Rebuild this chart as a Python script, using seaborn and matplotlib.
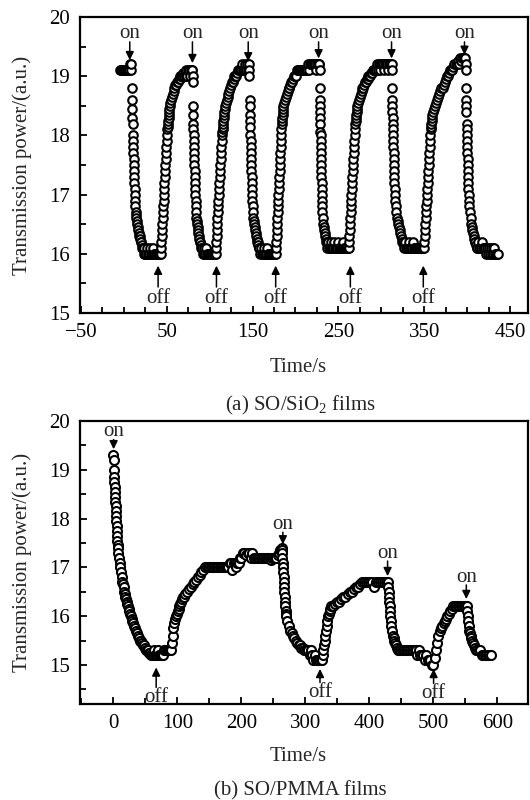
import numpy as np
import pandas as pd
import matplotlib
matplotlib.use("Agg")
import matplotlib.pyplot as plt
from matplotlib.ticker import MultipleLocator
import seaborn as sns

# ======================= DATA =======================
# Panel (a) SO/SiO2 films: for every on/off cycle, the phase edge times (s)
# and the readings (a.u.) recorded inside each phase (evenly spaced in time).
a1_edges = [-4, 9, 14, 22, 43, 54, 72]
a1_power = [
    [19.1, 19.1, 19.1, 19.1, 19.1, 19.1, 19.1, 19.1, 19.1, 19.1, 19.1, 19.1, 19.2, 19.1],
    [19.2, 18.8, 18.6, 18.45, 18.3, 18.2, 18.0, 17.9, 17.8, 17.7, 17.6, 17.5, 17.4, 17.3, 17.2, 17.1, 17.0, 16.9, 16.8, 16.7],
    [16.65, 16.6, 16.55, 16.5, 16.45, 16.4, 16.35, 16.3, 16.3, 16.25, 16.2, 16.2, 16.15, 16.1],
    [16.1, 16.0, 16.1, 16.0, 16.0, 16.1, 16.0, 16.0, 16.1, 16.0, 16.0, 16.0, 16.1, 16.0, 16.0, 16.0, 16.0, 16.0, 16.0, 16.0],
    [16.0, 16.1, 16.2, 16.3, 16.4, 16.5, 16.6, 16.7, 16.8, 16.9, 17.0, 17.1, 17.2, 17.3, 17.4, 17.5, 17.6, 17.7, 17.8, 17.9,
     18.0, 18.1, 18.15, 18.2, 18.25, 18.3, 18.35, 18.4, 18.45, 18.5],
    [18.55, 18.6, 18.65, 18.7, 18.75, 18.8, 18.85, 18.85, 18.9, 18.9, 18.95, 18.95, 19.0, 19.0, 19.0, 19.05, 19.0, 19.05],
]
a2_edges = [72, 80, 84, 90, 107, 118, 136]
a2_power = [
    [19.0, 19.1, 19.0, 19.1, 19.1, 19.0, 19.1, 19.1],
    [19.1, 19.0, 18.9, 18.5, 18.35, 18.2, 18.1, 18.0, 17.9, 17.8, 17.7, 17.6, 17.5, 17.4, 17.3, 17.2, 17.1, 17.0, 16.9, 16.8],
    [16.7, 16.6, 16.55, 16.5, 16.45, 16.4, 16.35, 16.3, 16.25, 16.2, 16.2, 16.15],
    [16.1, 16.1, 16.0, 16.1, 16.0, 16.0, 16.1, 16.0, 16.0, 16.0, 16.0, 16.0, 16.0, 16.0, 16.0, 16.0, 16.0],
    [16.0, 16.1, 16.2, 16.3, 16.4, 16.5, 16.6, 16.7, 16.8, 16.9, 17.0, 17.1, 17.2, 17.3, 17.4, 17.5, 17.6, 17.7, 17.8, 17.9,
     18.0, 18.05, 18.1, 18.15, 18.2, 18.25, 18.3, 18.35, 18.4, 18.45],
    [18.5, 18.55, 18.6, 18.65, 18.7, 18.75, 18.8, 18.85, 18.9, 18.9, 18.95, 19.0, 19.0, 19.0, 19.05, 19.1, 19.1, 19.1],
]
a3_edges = [136, 146, 150, 158, 177, 186, 201]
a3_power = [
    [19.1, 19.1, 19.2, 19.1, 19.1, 19.2, 19.1, 19.1, 19.2, 19.1],
    [19.2, 19.1, 19.0, 18.6, 18.5, 18.35, 18.25, 18.15, 18.0, 17.9, 17.8, 17.7, 17.6, 17.5, 17.4, 17.3, 17.2, 17.1, 17.0, 16.9],
    [16.8, 16.7, 16.6, 16.55, 16.5, 16.45, 16.4, 16.35, 16.3, 16.25, 16.2, 16.2, 16.15, 16.1],
    [16.1, 16.0, 16.1, 16.0, 16.0, 16.1, 16.0, 16.0, 16.0, 16.1, 16.0, 16.0, 16.0, 16.0, 16.0, 16.0, 16.0, 16.0, 16.0],
    [16.0, 16.1, 16.2, 16.3, 16.4, 16.5, 16.6, 16.7, 16.8, 16.9, 17.0, 17.1, 17.2, 17.3, 17.4, 17.5, 17.6, 17.7, 17.8, 17.9,
     18.0, 18.1, 18.2, 18.25, 18.3, 18.35, 18.4, 18.45],
    [18.5, 18.55, 18.6, 18.65, 18.7, 18.75, 18.8, 18.8, 18.85, 18.9, 18.9, 18.95, 19.0, 19.0, 19.0],
]
a4_edges = [201, 228, 231, 237, 262, 272, 294]
a4_power = [
    [19.0, 19.1, 19.1, 19.1, 19.1, 19.1, 19.1, 19.1, 19.1, 19.1, 19.1, 19.1, 19.1, 19.1, 19.2, 19.1, 19.2, 19.2, 19.2, 19.2,
     19.2, 19.2, 19.2, 19.1, 19.2, 19.2, 19.2],
    [19.2, 19.1, 18.8, 18.6, 18.5, 18.4, 18.3, 18.2, 18.05, 18.0, 17.9, 17.8, 17.7, 17.6, 17.5, 17.4, 17.3, 17.2, 17.1, 17.0, 16.9],
    [16.8, 16.7, 16.6, 16.5, 16.45, 16.4, 16.35, 16.3, 16.25, 16.2, 16.2],
    [16.1, 16.2, 16.1, 16.1, 16.2, 16.1, 16.1, 16.1, 16.2, 16.1, 16.1, 16.1, 16.1, 16.2, 16.1, 16.1, 16.1, 16.1, 16.1, 16.2,
     16.1, 16.1, 16.1, 16.1, 16.1],
    [16.1, 16.2, 16.3, 16.4, 16.5, 16.6, 16.7, 16.8, 16.9, 17.0, 17.1, 17.2, 17.3, 17.4, 17.5, 17.6, 17.7, 17.8, 17.9, 18.0,
     18.1, 18.2, 18.25, 18.3, 18.35, 18.4, 18.45],
    [18.5, 18.55, 18.6, 18.65, 18.7, 18.75, 18.8, 18.8, 18.85, 18.9, 18.9, 18.95, 18.95, 19.0, 19.0, 19.0, 19.05, 19.05, 19.1,
     19.1, 19.1, 19.1],
]
a5_edges = [294, 312, 316, 327, 350, 360, 398]
a5_power = [
    [19.1, 19.2, 19.1, 19.2, 19.2, 19.1, 19.2, 19.2, 19.2, 19.1, 19.2, 19.2, 19.2, 19.2, 19.1, 19.2, 19.2, 19.2],
    [19.2, 19.1, 18.8, 18.6, 18.5, 18.4, 18.3, 18.2, 18.1, 18.0, 17.9, 17.8, 17.7, 17.6, 17.5, 17.4, 17.3, 17.2, 17.1, 17.0],
    [16.9, 16.8, 16.7, 16.6, 16.55, 16.5, 16.45, 16.4, 16.35, 16.3, 16.25, 16.2, 16.2, 16.15],
    [16.1, 16.2, 16.1, 16.1, 16.1, 16.2, 16.1, 16.1, 16.1, 16.1, 16.2, 16.1, 16.1, 16.1, 16.1, 16.1, 16.1, 16.1, 16.1, 16.1,
     16.1, 16.1, 16.1],
    [16.1, 16.2, 16.3, 16.4, 16.5, 16.6, 16.7, 16.8, 16.9, 17.0, 17.1, 17.2, 17.3, 17.4, 17.5, 17.6, 17.7, 17.8, 17.9, 18.0,
     18.1, 18.15, 18.2, 18.25, 18.3, 18.35],
    [18.4, 18.45, 18.5, 18.55, 18.6, 18.65, 18.7, 18.75, 18.8, 18.8, 18.85, 18.9, 18.95, 19.0, 19.0, 19.05, 19.1, 19.1, 19.1,
     19.15, 19.2, 19.2, 19.2, 19.25, 19.2, 19.3, 19.25, 19.3, 19.3, 19.3],
]
a6_edges = [398, 402, 411, 437]
a6_power = [
    [19.3, 19.2, 19.1, 18.8, 18.6, 18.5, 18.4, 18.2, 18.1, 18.0, 17.9, 17.8, 17.7, 17.6, 17.5, 17.4, 17.3, 17.2, 17.1, 17.0],
    [16.9, 16.8, 16.7, 16.6, 16.5, 16.45, 16.4, 16.35, 16.3, 16.25, 16.2, 16.2, 16.15],
    [16.1, 16.1, 16.2, 16.1, 16.1, 16.1, 16.2, 16.1, 16.1, 16.1, 16.1, 16.0, 16.1, 16.0, 16.1, 16.0, 16.1, 16.0, 16.1, 16.0,
     16.1, 16.0, 16.0, 16.0, 16.0],
]
# switching events of panel (a)
a_on_time = [7, 80, 145, 227, 312, 397]
a_on_tip = [19.27, 19.22, 19.25, 19.3, 19.3, 19.36]
a_off_time = [40, 108, 177, 264, 349]
a_off_tip = [15.8, 15.8, 15.8, 15.8, 15.8]

# Panel (b) SO/PMMA films
b1_edges = [0, 7, 27, 60, 90, 110, 146, 180, 200, 220, 263]
b1_power = [
    [19.3, 19.2, 19.0, 18.85, 18.75, 18.65, 18.55, 18.45, 18.35, 18.25, 18.15, 18.05, 17.95, 17.85, 17.75, 17.65, 17.55, 17.45],
    [17.4, 17.3, 17.2, 17.1, 17.0, 16.9, 16.8, 16.7, 16.65, 16.6, 16.5, 16.45, 16.4, 16.35, 16.3, 16.25, 16.2, 16.15, 16.1, 16.05],
    [16.0, 15.95, 15.9, 15.85, 15.8, 15.75, 15.7, 15.65, 15.6, 15.55, 15.5, 15.5, 15.45, 15.4, 15.4, 15.35, 15.3, 15.3, 15.3,
     15.25, 15.25, 15.2],
    [15.2, 15.2, 15.3, 15.2, 15.2, 15.2, 15.2, 15.3, 15.2, 15.2, 15.2, 15.2, 15.2, 15.3, 15.3, 15.3, 15.3, 15.3, 15.3, 15.3],
    [15.3, 15.45, 15.6, 15.75, 15.85, 15.95, 16.0, 16.05, 16.1, 16.15, 16.2, 16.25, 16.3, 16.35, 16.4],
    [16.4, 16.45, 16.5, 16.55, 16.6, 16.65, 16.7, 16.75, 16.8, 16.85, 16.9, 16.95, 17.0],
    [17.0, 17.0, 17.0, 17.0, 17.0, 17.0, 17.0, 17.0, 17.0, 17.0, 17.0, 17.0, 17.0, 17.0, 17.0, 17.0, 17.0],
    [17.0, 17.1, 17.1, 16.95, 17.1, 17.1, 17.0, 17.1, 17.1, 17.2],
    [17.2, 17.3, 17.3, 17.25, 17.3, 17.3, 17.2, 17.3],
    [17.2, 17.2, 17.2, 17.2, 17.2, 17.2, 17.2, 17.2, 17.2, 17.2, 17.2, 17.2, 17.2, 17.15, 17.2, 17.2, 17.2, 17.2, 17.25,
     17.3, 17.35],
]
b2_edges = [263, 270, 305, 326, 340, 392, 429]
b2_power = [
    [17.4, 17.35, 17.3, 17.2, 17.1, 17.0, 16.9, 16.8, 16.7, 16.6, 16.5, 16.4, 16.3, 16.2, 16.1, 16.05],
    [16.0, 15.9, 15.8, 15.7, 15.65, 15.6, 15.55, 15.5, 15.45, 15.4, 15.4, 15.35, 15.35, 15.3, 15.3, 15.3],
    [15.3, 15.2, 15.3, 15.2, 15.1, 15.2, 15.1, 15.1, 15.1, 15.1, 15.1],
    [15.1, 15.2, 15.3, 15.4, 15.5, 15.6, 15.7, 15.8, 15.9, 16.0, 16.05, 16.1, 16.15],
    [16.2, 16.2, 16.25, 16.3, 16.3, 16.35, 16.4, 16.4, 16.45, 16.5, 16.5, 16.55, 16.6, 16.6, 16.65, 16.7],
    [16.7, 16.7, 16.7, 16.7, 16.7, 16.6, 16.7, 16.7, 16.7, 16.7, 16.7, 16.7],
]
b3_edges = [429, 434, 446, 500, 524, 534, 552]
b3_power = [
    [16.7, 16.6, 16.5, 16.4, 16.3, 16.2, 16.1, 16.0, 15.9],
    [15.8, 15.7, 15.6, 15.55, 15.5, 15.45, 15.4, 15.35, 15.3],
    [15.3, 15.3, 15.3, 15.3, 15.3, 15.3, 15.3, 15.3, 15.3, 15.3, 15.3, 15.3, 15.3, 15.2, 15.3, 15.2, 15.2, 15.2, 15.1, 15.2,
     15.1, 15.1, 15.1, 15.0],
    [15.0, 15.15, 15.3, 15.45, 15.6, 15.7, 15.75, 15.8, 15.85, 15.9, 15.95, 16.0],
    [16.05, 16.1, 16.15, 16.2],
    [16.2, 16.2, 16.2, 16.2, 16.2, 16.2, 16.2, 16.2],
]
b4_edges = [552, 557, 566, 592]
b4_power = [
    [16.2, 16.1, 16.0, 15.9, 15.8, 15.7],
    [15.65, 15.6, 15.55, 15.5, 15.45, 15.4, 15.35],
    [15.3, 15.3, 15.3, 15.3, 15.2, 15.2, 15.2, 15.2, 15.2, 15.2, 15.2],
]
# switching events of panel (b)
b_on_time = [0.5, 265, 428.6, 551.6]
b_on_text = [19.70, 17.79, 17.20, 16.70]
b_on_tail = [19.62, 17.72, 17.13, 16.64]
b_on_tip = [19.42, 17.47, 16.82, 16.35]
b_off_time = [67, 323, 500.5]
b_off_text = [14.24, 14.34, 14.32]
b_off_tail = [14.54, 14.64, 14.62]
b_off_tip = [14.95, 14.92, 14.92]


def expand(edges, phases):
    t, v = [], []
    for t0, t1, vals in zip(edges[:-1], edges[1:], phases):
        t.extend(np.linspace(t0, t1, len(vals), endpoint=False))
        v.extend(vals)
    return t, v


def build(cycles):
    ts, vs = [], []
    for edges, phases in cycles:
        t, v = expand(edges, phases)
        ts += t
        vs += v
    return pd.DataFrame({"time": ts, "power": vs})


df_a = build([(a1_edges, a1_power), (a2_edges, a2_power), (a3_edges, a3_power),
              (a4_edges, a4_power), (a5_edges, a5_power), (a6_edges, a6_power)])
df_b = build([(b1_edges, b1_power), (b2_edges, b2_power), (b3_edges, b3_power),
              (b4_edges, b4_power)])

# ======================= STYLE =======================
sns.set_style("ticks")
plt.rcParams["font.family"] = ["Liberation Serif", "DejaVu Serif"]
plt.rcParams["mathtext.fontset"] = "custom"
plt.rcParams["mathtext.rm"] = "Liberation Serif"
plt.rcParams["mathtext.it"] = "Liberation Serif:italic"
plt.rcParams["axes.unicode_minus"] = True

FS = 15
fig = plt.figure(figsize=(5.3, 8), dpi=100)
ax_a = fig.add_axes([80 / 530, 1 - 313 / 800, 448 / 530, 296 / 800])
ax_b = fig.add_axes([80 / 530, 1 - 704 / 800, 448 / 530, 283 / 800])

scatter_kw = dict(marker="o", facecolor="white", edgecolor="black",
                  linewidth=1.5, legend=False, zorder=3)
sns.scatterplot(data=df_a, x="time", y="power", ax=ax_a, s=38, **scatter_kw)
sns.scatterplot(data=df_b, x="time", y="power", ax=ax_b, s=42, **scatter_kw)

arrow_kw = dict(arrowstyle="-|>,head_width=0.22,head_length=0.45", lw=1.1,
                color="black", shrinkA=0, shrinkB=0, mutation_scale=11)


def mark(ax, t, text, text_y, tail, tip):
    ax.text(t, text_y, text, ha="center", va="baseline", fontsize=FS, zorder=5)
    ax.annotate("", xy=(t, tip), xytext=(t, tail), arrowprops=arrow_kw, zorder=6)


for t, tip in zip(a_on_time, a_on_tip):
    mark(ax_a, t, "on", 19.64, 19.58, tip)
for t, tip in zip(a_off_time, a_off_tip):
    mark(ax_a, t, "off", 15.17, 15.44, tip)
for t, ty, tl, tp in zip(b_on_time, b_on_text, b_on_tail, b_on_tip):
    mark(ax_b, t, "on", ty, tl, tp)
for t, ty, tl, tp in zip(b_off_time, b_off_text, b_off_tail, b_off_tip):
    mark(ax_b, t, "off", ty, tl, tp)

# axes formatting
ax_a.set_xlim(-51, 471)
ax_a.set_ylim(15, 20)
ax_a.set_xticks(np.arange(-50, 451, 100))
ax_a.xaxis.set_minor_locator(MultipleLocator(25))
ax_b.set_xlim(-52, 648)
ax_b.set_ylim(14.2, 20)
ax_b.set_xticks(np.arange(0, 601, 100))
ax_b.xaxis.set_minor_locator(MultipleLocator(50))

for ax in (ax_a, ax_b):
    ax.set_yticks(np.arange(15, 20.1, 1))
    ax.yaxis.set_minor_locator(MultipleLocator(0.5))
    ax.tick_params(which="both", direction="in", top=False, right=False,
                   labelsize=FS, pad=7, width=1.3, colors="black")
    ax.tick_params(which="major", length=5)
    ax.tick_params(which="minor", length=4)
    for sp in ax.spines.values():
        sp.set_linewidth(1.6)
        sp.set_color("black")
        sp.set_visible(True)
    ax.set_xlabel("Time/s", fontsize=FS)
    ax.set_ylabel("Transmission power/(a.u.)", fontsize=FS)
    ax.xaxis.label.set_va("baseline")

ax_a.xaxis.set_label_coords(0.487, -0.199)
ax_b.xaxis.set_label_coords(0.487, -0.201)
ax_a.yaxis.set_label_coords(-0.107, 0.5)
ax_b.yaxis.set_label_coords(-0.107, 0.5)

fig.text(300 / 530, 1 - 410 / 800, "(a) SO/SiO$_2$ films", ha="center", va="baseline", fontsize=FS)
fig.text(300 / 530, 1 - 795 / 800, "(b) SO/PMMA films", ha="center", va="baseline", fontsize=FS)

fig.savefig("out.png", dpi=100, facecolor="white")
